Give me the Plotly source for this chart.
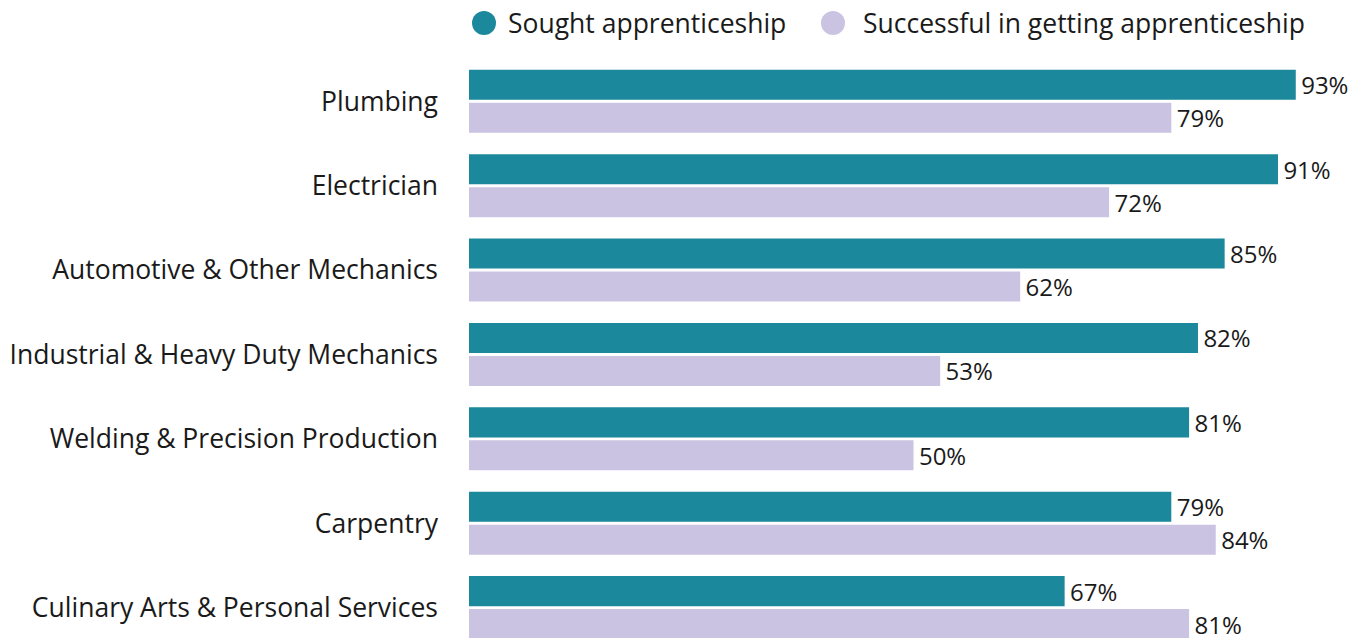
import plotly.graph_objects as go

# apprenticeship outcomes by trade
trades = ["Plumbing", "Electrician", "Automotive & Other Mechanics",
          "Industrial & Heavy Duty Mechanics", "Welding & Precision Production",
          "Carpentry", "Culinary Arts & Personal Services"]
sought = [93, 91, 85, 82, 81, 79, 67]
successful = [79, 72, 62, 53, 50, 84, 81]
series_names = ["Sought apprenticeship", "Successful in getting apprenticeship"]

TEAL = "#1c889c"
LAVENDER = "#cbc3e2"
FONT = "Open Sans"
INK = "#1a1a1a"

# page body has an 8px margin, so the figure is sized to fill the rest of the window
W, H = 1358, 630
ML, MR, MT, MB = 461, 8, 52, 0

fig = go.Figure()
for vals, name, col in [(sought, series_names[0], TEAL), (successful, series_names[1], LAVENDER)]:
    fig.add_trace(go.Bar(
        y=trades, x=vals, name=name, orientation="h",
        marker=dict(color=col, line=dict(width=0)),
        text=[f"\u200a{v}%" for v in vals], textposition="outside",
        constraintext="none",
        textfont=dict(family=FONT, size=24, color=INK),
        cliponaxis=False, showlegend=False,
    ))

# legend drawn by hand so the dots can be large
pw = W - ML - MR
ph = H - MT - MB
def px_x(p):
    return (p - ML) / pw
def px_y(p):
    return (H - MB - p) / ph

legend_items = [(476, 499, TEAL, series_names[0]), (825, 854, LAVENDER, series_names[1])]
for cx, tx, col, name in legend_items:
    fig.add_shape(type="circle", xref="paper", yref="paper",
                  xsizemode="pixel", ysizemode="pixel",
                  xanchor=px_x(cx), yanchor=px_y(15),
                  x0=-12, x1=12, y0=-12, y1=12,
                  fillcolor=col, line=dict(width=0))
    fig.add_annotation(text=name, xref="paper", yref="paper",
                       x=px_x(tx), y=px_y(15), xanchor="left", yanchor="middle",
                       borderpad=0, showarrow=False,
                       font=dict(family=FONT, size=26.5, color=INK))

fig.update_layout(
    width=W, height=H,
    margin=dict(l=ML, r=MR, t=MT, b=MB),
    barmode="group", bargap=0.218, bargroupgap=0.09,
    plot_bgcolor="white", paper_bgcolor="white",
    font=dict(family=FONT, size=26.5, color=INK),
)
fig.update_xaxes(range=[0, 100], visible=False)
fig.update_yaxes(categoryorder="array", categoryarray=trades,
                 range=[6.36, -0.49], showgrid=False, zeroline=False,
                 showline=False, ticks="", ticklabelstandoff=30,
                 tickfont=dict(family=FONT, size=26.5, color=INK))

fig.write_html("out.html")
